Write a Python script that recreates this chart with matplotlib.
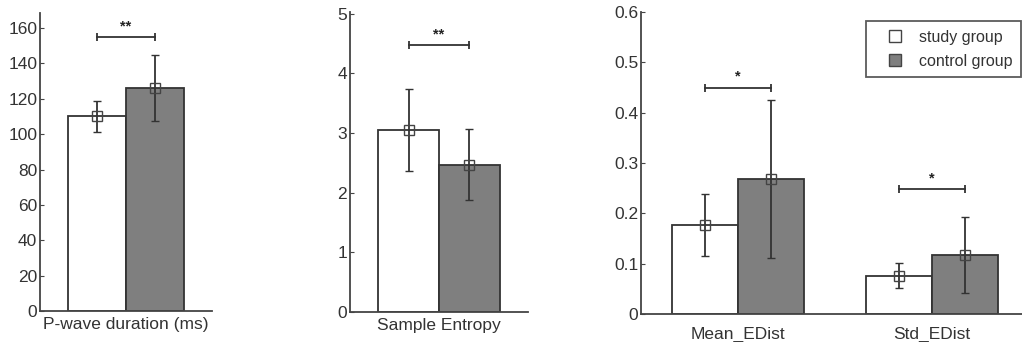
import numpy as np
import matplotlib.pyplot as plt
from matplotlib.lines import Line2D

# data
panel_labels = [["P-wave duration (ms)"], ["Sample Entropy"], ["Mean_EDist", "Std_EDist"]]
study_mean = [[110], [3.05], [0.177, 0.076]]
study_err = [[9], [0.69], [0.062, 0.025]]
control_mean = [[126], [2.47], [0.268, 0.117]]
control_err = [[18.5], [0.59], [0.157, 0.075]]
sig_level = [[155], [4.47], [0.45, 0.248]]
sig_stars = [["**"], ["**"], ["*", "*"]]
y_limits = [(0, 168.5), (0, 5.03), (0, 0.6)]
y_ticks = [np.arange(0, 161, 20), np.arange(0, 6, 1), np.arange(0, 0.61, 0.1)]

plt.rcParams['font.family'] = ['Liberation Sans', 'DejaVu Sans']

fig = plt.figure(figsize=(10.22, 3.42), dpi=100)
# axes rectangles in figure fractions
rects = [
    [40 / 1022, 1 - 311 / 342, 172 / 1022, 298 / 342],
    [350 / 1022, 1 - 312 / 342, 178 / 1022, 300 / 342],
    [641 / 1022, 1 - 314 / 342, 388 / 1022, 302 / 342],
]

axis_col = '#444444'
gray_fill = '#7f7f7f'
width = 0.34

for k in range(3):
    ax = fig.add_axes(rects[k])
    n = len(panel_labels[k])
    x = np.arange(1, n + 1)
    xs = x - width / 2
    xc = x + width / 2
    ax.bar(xs, study_mean[k], width, color='white', edgecolor='#333333', linewidth=1.3)
    ax.bar(xc, control_mean[k], width, color=gray_fill, edgecolor='#333333', linewidth=1.3)
    for xx, m, e in [(xs, study_mean[k], study_err[k]), (xc, control_mean[k], control_err[k])]:
        ax.errorbar(xx, m, yerr=e, fmt='s', mfc='none', mec='#444444', ms=7,
                    ecolor='#333333', elinewidth=1.3, capsize=3, capthick=1.3, mew=1.0)
    for i in range(n):
        y = sig_level[k][i]
        ax.plot([xs[i], xc[i]], [y, y], color='#333333', lw=1.3,
                marker='|', ms=6, mew=1.3)
        ax.text(x[i], y + (y_limits[k][1] * 0.012), sig_stars[k][i], ha='center',
                va='bottom', fontsize=10.5, color='#222222', fontweight='bold')
    ax.set_xlim(0.5, n + 0.5)
    ax.set_ylim(*y_limits[k])
    ax.set_yticks(y_ticks[k])
    if k == 2:
        ax.set_yticklabels(['0'] + ['%.1f' % v for v in y_ticks[k][1:]])
    else:
        ax.set_yticklabels([str(int(v)) for v in y_ticks[k]])
    ax.set_xticks(x)
    ax.set_xticklabels(panel_labels[k])
    for s in ['top', 'right']:
        ax.spines[s].set_visible(False)
    for s in ['left', 'bottom']:
        ax.spines[s].set_color(axis_col)
        ax.spines[s].set_linewidth(1.3)
    ax.tick_params(axis='y', direction='in', length=3, color=axis_col,
                   labelsize=12.5, labelcolor='#333333', pad=2)
    ax.tick_params(axis='x', length=0, labelsize=12.5, labelcolor='#333333',
                   pad=4 if k < 2 else 9)
    ax.patch.set_visible(False)

handles = [
    Line2D([], [], ls='none', marker='s', ms=9, mfc='white', mec='#444444'),
    Line2D([], [], ls='none', marker='s', ms=9, mfc=gray_fill, mec='#444444'),
]
leg = fig.legend(handles, ['study group', 'control group'], loc='upper left',
                 bbox_to_anchor=(866 / 1022, 1 - 21 / 342), fontsize=11.5,
                 fancybox=False, edgecolor='#333333', handlelength=2.5,
                 handletextpad=0.25, borderpad=0.55, labelspacing=0.55,
                 borderaxespad=0)
leg.get_frame().set_linewidth(1.3)
for t in leg.get_texts():
    t.set_color('#333333')

plt.savefig('out.png', dpi=100)
